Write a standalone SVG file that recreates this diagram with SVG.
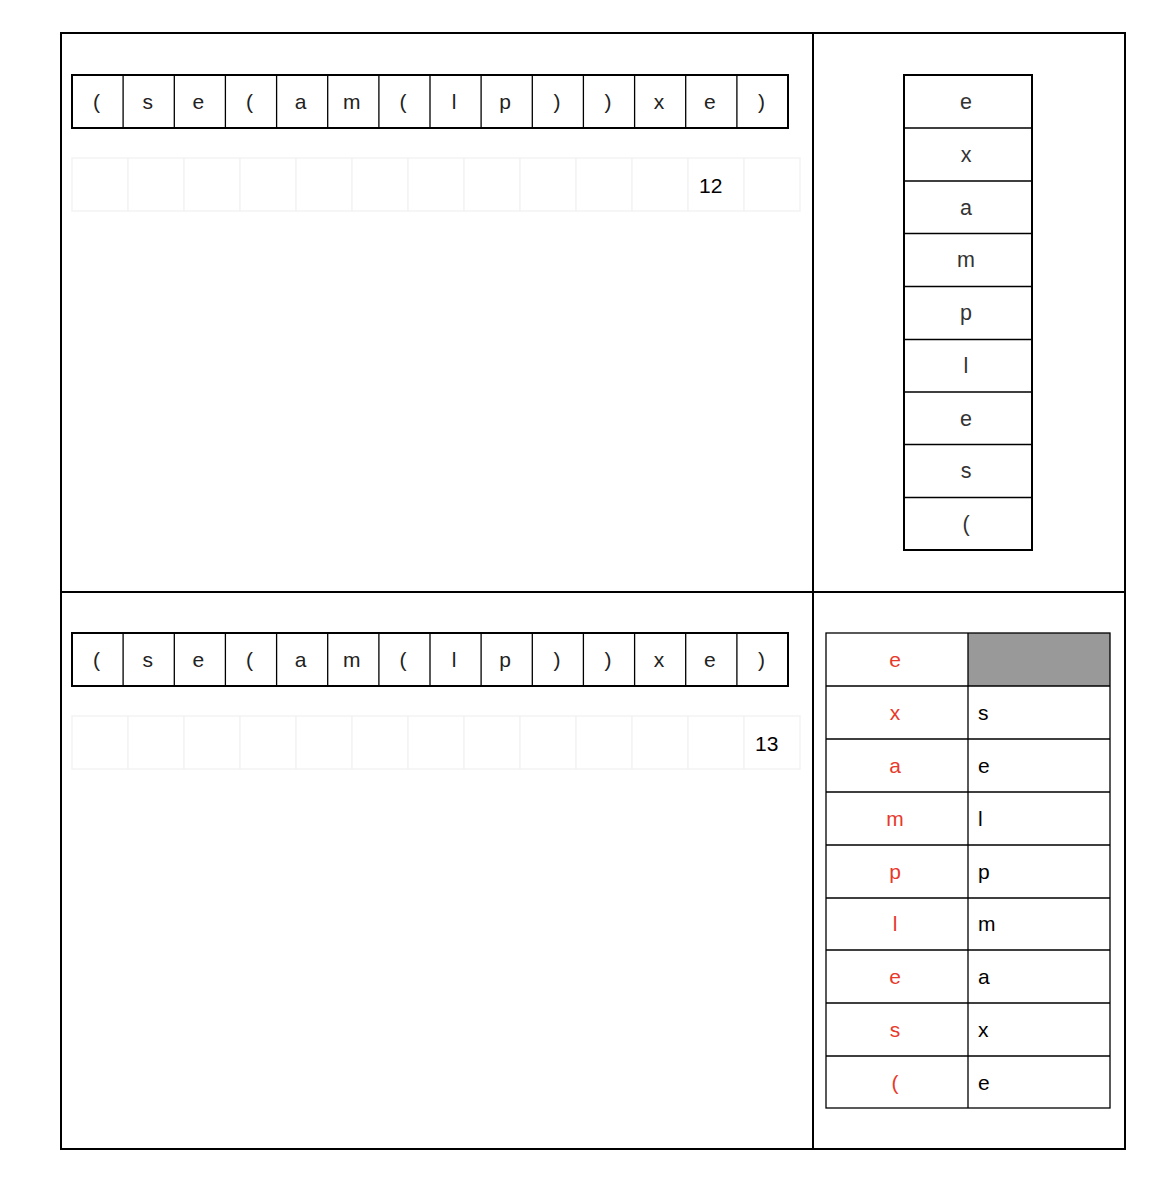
<svg xmlns="http://www.w3.org/2000/svg" width="1158" height="1188" viewBox="0 0 1158 1188">
<style>
  .frame{fill:none;stroke:#000;stroke-width:2}
  .cell{fill:#fff;stroke:#000;stroke-width:2}
  .idx{fill:#fff;stroke:#f3f3f3;stroke-width:1.5}
  .t{font-family:"Liberation Sans",Arial,sans-serif;font-size:21px;fill:#222;text-anchor:middle}
  .tl{font-family:"Liberation Sans",Arial,sans-serif;font-size:21px;fill:#000;text-anchor:start}
  .s{font-family:"Liberation Sans",Arial,sans-serif;font-size:21.5px;fill:#333;text-anchor:middle}
  .r{font-family:"Liberation Sans",Arial,sans-serif;font-size:21px;fill:#e8392b;text-anchor:middle}
  .st{fill:none;stroke:#000;stroke-width:1.3}
</style>
<rect width="1158" height="1188" fill="#fff"/>
<g id="frame">
  <rect class="frame" x="61" y="33" width="1064" height="1116"/>
  <line class="frame" x1="813" y1="33" x2="813" y2="1149"/>
  <line class="frame" x1="61" y1="592" x2="1125" y2="592"/>
</g>
<defs>
  <g id="arr">
    <rect class="cell" x="72" y="0" width="716" height="53"/>
    <path class="st" stroke-width="2" d="M123.1 0V53M174.3 0V53M225.4 0V53M276.6 0V53M327.7 0V53M378.9 0V53M430 0V53M481.1 0V53M532.3 0V53M583.4 0V53M634.6 0V53M685.7 0V53M736.9 0V53"/>
    <text class="t" x="96.6" y="34">(</text>
    <text class="t" x="147.7" y="34">s</text>
    <text class="t" x="198.4" y="34">e</text>
    <text class="t" x="249.5" y="34">(</text>
    <text class="t" x="300.6" y="34">a</text>
    <text class="t" x="351.8" y="34">m</text>
    <text class="t" x="402.9" y="34">(</text>
    <text class="t" x="454.1" y="34">l</text>
    <text class="t" x="505.2" y="34">p</text>
    <text class="t" x="556.9" y="34">)</text>
    <text class="t" x="608" y="34">)</text>
    <text class="t" x="659.1" y="34">x</text>
    <text class="t" x="709.8" y="34">e</text>
    <text class="t" x="761.4" y="34">)</text>
  </g>
  <g id="idxrow">
    <rect class="idx" x="72" y="0" width="56" height="53"/>
    <rect class="idx" x="128" y="0" width="56" height="53"/>
    <rect class="idx" x="184" y="0" width="56" height="53"/>
    <rect class="idx" x="240" y="0" width="56" height="53"/>
    <rect class="idx" x="296" y="0" width="56" height="53"/>
    <rect class="idx" x="352" y="0" width="56" height="53"/>
    <rect class="idx" x="408" y="0" width="56" height="53"/>
    <rect class="idx" x="464" y="0" width="56" height="53"/>
    <rect class="idx" x="520" y="0" width="56" height="53"/>
    <rect class="idx" x="576" y="0" width="56" height="53"/>
    <rect class="idx" x="632" y="0" width="56" height="53"/>
    <rect class="idx" x="688" y="0" width="56" height="53"/>
    <rect class="idx" x="744" y="0" width="56" height="53"/>
  </g>
</defs>
<g id="array-top" transform="translate(0,75)"><use href="#arr"/></g>
<g id="index-top" transform="translate(0,158)"><use href="#idxrow"/><text class="tl" x="699" y="34.5">12</text></g>
<g id="array-bottom" transform="translate(0,633)"><use href="#arr"/></g>
<g id="index-bottom" transform="translate(0,716)"><use href="#idxrow"/><text class="tl" x="755" y="34.5">13</text></g>
<g id="stack">
  <rect class="cell" x="904" y="75" width="128" height="475"/>
  <path class="st" d="M904 128H1032M904 181H1032M904 233.5H1032M904 286.5H1032M904 339.5H1032M904 392H1032M904 444.5H1032M904 497.5H1032"/>
  <text class="s" x="966" y="109">e</text>
  <text class="s" x="966" y="162">x</text>
  <text class="s" x="966" y="214.5">a</text>
  <text class="s" x="966" y="267">m</text>
  <text class="s" x="966" y="320">p</text>
  <text class="s" x="966" y="373">l</text>
  <text class="s" x="966" y="425.5">e</text>
  <text class="s" x="966" y="478">s</text>
  <text class="s" x="966" y="531">(</text>
</g>
<g id="table">
  <rect x="968" y="633" width="142" height="53" fill="#999"/>
  <rect x="826" y="633" width="284" height="475" fill="none" stroke="#000" stroke-width="1.3"/>
  <path class="st" stroke-width="2" d="M968 633V1108M826 686H1110M826 739H1110M826 792H1110M826 845H1110M826 898H1110M826 950H1110M826 1003H1110M826 1056H1110"/>
  <text class="r" x="895" y="667">e</text>
  <text class="r" x="895" y="720">x</text>
  <text class="r" x="895" y="773">a</text>
  <text class="r" x="895" y="826">m</text>
  <text class="r" x="895" y="879">p</text>
  <text class="r" x="895" y="931">l</text>
  <text class="r" x="895" y="984">e</text>
  <text class="r" x="895" y="1037">s</text>
  <text class="r" x="895" y="1090">(</text>
  <text class="tl" x="978" y="720">s</text>
  <text class="tl" x="978" y="773">e</text>
  <text class="tl" x="978" y="826">l</text>
  <text class="tl" x="978" y="879">p</text>
  <text class="tl" x="978" y="931">m</text>
  <text class="tl" x="978" y="984">a</text>
  <text class="tl" x="978" y="1037">x</text>
  <text class="tl" x="978" y="1090">e</text>
</g>
</svg>
